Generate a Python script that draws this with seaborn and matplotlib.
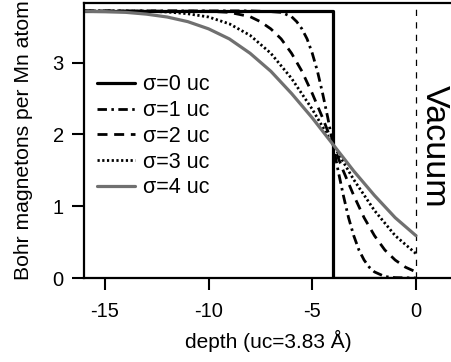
import seaborn as sns
import pandas as pd
import matplotlib
matplotlib.use("Agg")
import matplotlib.pyplot as plt

# magnetization profiles (depth in uc, moment in Bohr magnetons)
x_s0 = [-16, -4, -4, 0]
y_s0 = [3.72, 3.72, 0.0, 0.0]

x_s1 = [-16, -8, -7, -6.5, -6, -5.75, -5.5, -5.25, -5, -4.75, -4.5, -4.25, -4,
        -3.75, -3.5, -3.25, -3, -2.75, -2.5, -2.25, -2, -1.5, -1, 0]
y_s1 = [3.72, 3.72, 3.71, 3.70, 3.64, 3.57, 3.47, 3.33, 3.13, 2.88, 2.57, 2.23, 1.86,
        1.49, 1.15, 0.84, 0.59, 0.39, 0.25, 0.15, 0.085, 0.02, 0.005, 0.0]

x_s2 = [-16, -10, -9, -8, -7.5, -7, -6.5, -6, -5.5, -5, -4.5, -4, -3.5, -3,
        -2.5, -2, -1.5, -1, -0.5, 0]
y_s2 = [3.72, 3.715, 3.70, 3.64, 3.57, 3.47, 3.33, 3.13, 2.88, 2.57, 2.23, 1.86, 1.49, 1.15,
        0.84, 0.59, 0.39, 0.25, 0.15, 0.085]

x_s3 = [-16, -13, -12, -11, -10, -9, -8, -7, -6, -5, -4, -3, -2, -1, 0]
y_s3 = [3.72, 3.715, 3.705, 3.68, 3.635, 3.54, 3.38, 3.13, 2.78, 2.35, 1.86, 1.37, 0.94, 0.59, 0.34]

x_s4 = [-16, -15, -14, -13, -12, -11, -10, -9, -8, -7, -6, -5, -4, -3, -2, -1, 0]
y_s4 = [3.715, 3.71, 3.70, 3.675, 3.635, 3.57, 3.47, 3.33, 3.13, 2.88, 2.57, 2.23, 1.86,
        1.49, 1.15, 0.84, 0.59]

labels = ["σ=0 uc", "σ=1 uc", "σ=2 uc", "σ=3 uc", "σ=4 uc"]
xs = [x_s0, x_s1, x_s2, x_s3, x_s4]
ys = [y_s0, y_s1, y_s2, y_s3, y_s4]

sns.set_style("ticks")
plt.rcParams["font.family"] = ["Liberation Sans", "DejaVu Sans"]
plt.rcParams["axes.unicode_minus"] = False
for k in ["text.color", "axes.labelcolor", "xtick.color", "ytick.color", "axes.edgecolor"]:
    plt.rcParams[k] = "black"

styles = [
    dict(color="black", lw=2.3, ls="-"),
    dict(color="black", lw=2.0, ls=(0, (3.4, 1.6, 0.9, 1.6))),
    dict(color="black", lw=2.0, ls=(0, (3.6, 2.4))),
    dict(color="black", lw=2.0, ls=(0, (0.8, 0.9))),
    dict(color="#707070", lw=2.3, ls="-"),
]

fig = plt.figure(figsize=(4.52, 3.62), dpi=100)
ax = fig.add_axes([84 / 452, 1 - 278 / 362, 1 - 84 / 452, 275 / 362])

for lab, x, y, st in zip(labels, xs, ys, styles):
    df = pd.DataFrame({"depth": x, "moment": y})
    sns.lineplot(data=df, x="depth", y="moment", ax=ax, estimator=None, sort=False,
                 color=st["color"], lw=st["lw"], linestyle=st["ls"], label=lab)

ax.axvline(0, color="black", lw=0.9, linestyle=(0, (5, 5)), zorder=1)
ax.text(0.87, 1.84, "Vacuum", rotation=-90, ha="center", va="center", fontsize=24.5)

ax.set_xlim(-16.01, 1.74)
ax.set_ylim(0, 3.83)
ax.set_xticks([-15, -10, -5, 0])
ax.set_yticks([0, 1, 2, 3])
ax.tick_params(length=8.6, width=1.5, labelsize=14.5, pad=6)
ax.tick_params(axis="x", pad=9)
for s in ["left", "bottom", "top"]:
    ax.spines[s].set_linewidth(1.6)
ax.spines["right"].set_visible(False)

ax.set_xlabel("depth (uc=3.83 Å)", fontsize=15, labelpad=6)
ax.set_ylabel("Bohr magnetons per Mn atom", fontsize=15.2, labelpad=14)

ax.legend(loc="upper left", bbox_to_anchor=(0.035, 0.74), frameon=False, fontsize=15.5,
          handlelength=1.75, handletextpad=0.4, labelspacing=0.22, borderpad=0, borderaxespad=0)

fig.savefig("out.png", dpi=100)
